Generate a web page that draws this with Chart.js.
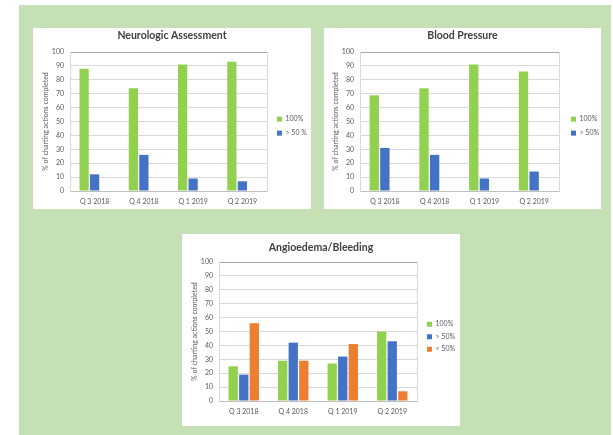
<!DOCTYPE html>
<html>
<head>
<meta charset="utf-8">
<script src="https://cdn.jsdelivr.net/npm/chart.js@4.4.1/dist/chart.umd.min.js"></script>
<style>
  html, body { margin: 0; padding: 0; background: #ffffff; }
  body { width: 613px; height: 435px; position: relative; overflow: hidden; }
  #bg { position: absolute; left: 19px; top: 5px; width: 592px; height: 430px; background: #C5E0B4; }
  .panel { position: absolute; background: #ffffff; }
  .panel canvas { display: block; }
</style>
</head>
<body>
<div id="bg"></div>
<div class="panel" id="p1" style="left:33px; top:28px; width:278px; height:181px;"><canvas id="c1"></canvas></div>
<div class="panel" id="p2" style="left:324px; top:28px; width:277px; height:181px;"><canvas id="c2"></canvas></div>
<div class="panel" id="p3" style="left:182px; top:234px; width:278px; height:192px;"><canvas id="c3"></canvas></div>
<script>
// Quarters on the x axis
const quarters = ['Q 3 2018', 'Q 4 2018', 'Q 1 2019', 'Q 2 2019'];

// Neurologic Assessment (% of charting actions completed)
const neuroFull = [88, 74, 91, 93];
const neuroOver50 = [12, 26, 9, 7];

// Blood Pressure
const bpFull = [69, 74, 91, 86];
const bpOver50 = [31, 26, 9, 14];

// Angioedema/Bleeding
const angioFull = [25, 29, 27, 50];
const angioOver50 = [19, 42, 32, 43];
const angioUnder50 = [56, 29, 41, 7];

const GREEN = '#92D050';
const BLUE = '#4472C4';
const ORANGE = '#ED7D31';
const TEXT = '#595959';
const GRID = '#D9D9D9';
const FONT = 'Lato, "Liberation Sans", sans-serif';

// Gives the right-hand legend a fixed width so the plot area keeps its size
const legendWidthPlugin = {
  id: 'legendWidth',
  beforeLayout(chart, args, opts) {
    const lg = chart.legend;
    if (lg && !lg._fixedWidth) {
      const fit = lg.fit.bind(lg);
      lg.fit = function () { fit(); this.width = opts.width; };
      lg._fixedWidth = true;
    }
  }
};

function buildChart(canvasId, title, datasets, cfg) {
  const el = document.getElementById(canvasId);
  return new Chart(el, {
    type: 'bar',
    data: { labels: quarters, datasets: datasets },
    plugins: [legendWidthPlugin],
    options: {
      responsive: true,
      maintainAspectRatio: false,
      animation: false,
      devicePixelRatio: 1,
      layout: { padding: cfg.pad },
      datasets: { bar: { categoryPercentage: 0.64, barPercentage: 0.88 } },
      plugins: {
        tooltip: { enabled: false },
        legendWidth: { width: cfg.legendW },
        title: {
          display: true,
          text: title,
          color: '#404040',
          font: { family: FONT, size: 10.5, weight: 'bold' },
          padding: { top: 0, bottom: cfg.titleGap }
        },
        legend: {
          position: 'right',
          align: 'center',
          fullSize: false,
          title: {
            display: true,
            text: ' ',
            font: { size: 1 },
            padding: { top: 0, bottom: cfg.legendDrop }
          },
          labels: {
            boxWidth: 5,
            boxHeight: 5,
            padding: cfg.legendPad,
            color: TEXT,
            font: { family: FONT, size: 7 },
            filter: (item) => item.text !== ''
          }
        }
      },
      scales: {
        x: {
          grid: { display: false, drawTicks: false },
          border: { display: true, color: '#BFBFBF', width: 1 },
          ticks: { color: TEXT, font: { family: FONT, size: 7 }, padding: 7 },
          afterFit: (s) => { s.height = cfg.xAxisH; }
        },
        y: {
          min: 0,
          max: 100,
          ticks: { stepSize: 10, color: TEXT, font: { family: FONT, size: 7 }, padding: 6 },
          grid: {
            color: (ctx) => (ctx.tick && ctx.tick.value === 100 ? '#A6A6A6' : GRID),
            drawTicks: false
          },
          border: { display: true, color: GRID },
          title: {
            display: true,
            text: '% of charting actions completed',
            color: TEXT,
            font: { family: FONT, size: 7 },
            padding: { top: cfg.yTitleIn, bottom: 2 }
          },
          afterFit: (s) => { s.width = cfg.yAxisW; }
        },
        yRight: {
          position: 'right',
          min: 0,
          max: 100,
          ticks: { display: false },
          grid: { display: false, drawTicks: false },
          border: { display: true, color: GRID },
          afterFit: (s) => { s.width = cfg.legendGap; }
        }
      }
    }
  });
}

buildChart('c1', 'Neurologic Assessment', [
  { label: '100%', data: neuroFull, backgroundColor: GREEN },
  { label: '> 50 %', data: neuroOver50, backgroundColor: BLUE },
  { label: '', data: [null, null, null, null], backgroundColor: ORANGE }
], { pad: { top: 1, right: 2, bottom: 3, left: 2 }, titleGap: 10.5, legendPad: 7, legendDrop: 8,
     legendW: 39, legendGap: 3, xAxisH: 15, yAxisW: 35, yTitleIn: 7 });

buildChart('c2', 'Blood Pressure', [
  { label: '100%', data: bpFull, backgroundColor: GREEN },
  { label: '> 50%', data: bpOver50, backgroundColor: BLUE },
  { label: '', data: [null, null, null, null], backgroundColor: ORANGE }
], { pad: { top: 1, right: 2, bottom: 3, left: 2 }, titleGap: 10.5, legendPad: 7, legendDrop: 8,
     legendW: 35, legendGap: 5, xAxisH: 15, yAxisW: 34, yTitleIn: 5.5 });

buildChart('c3', 'Angioedema/Bleeding', [
  { label: '100%', data: angioFull, backgroundColor: GREEN },
  { label: '> 50%', data: angioOver50, backgroundColor: BLUE },
  { label: '< 50%', data: angioUnder50, backgroundColor: ORANGE }
], { pad: { top: 7, right: 2, bottom: 6, left: 2 }, titleGap: 8.5, legendPad: 5.5, legendDrop: 9,
     legendW: 36.5, legendGap: 4.5, xAxisH: 19, yAxisW: 35, yTitleIn: 7 });
</script>
</body>
</html>
